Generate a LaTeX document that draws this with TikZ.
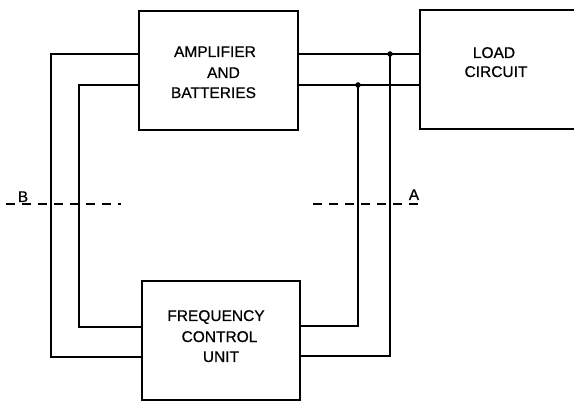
\documentclass[tikz,border=0pt]{standalone}
\usepackage{fontspec}
\setmainfont{Liberation Sans}
\newfontfamily\lettering{Liberation Sans}[FakeBold=0.6]
\begin{document}
\begin{tikzpicture}[x=1pt,y=-1pt,
  wire/.style={line width=1.6pt},
  box/.style={draw,line width=1.6pt,inner sep=0pt,rectangle,minimum height=119pt},
  lbl/.style={inner sep=0pt,anchor=base,font=\lettering\fontsize{15.5}{18}\selectfont},
  cut/.style={line width=1.6pt,dash pattern=on 9pt off 7pt},
  jdot/.style={circle,fill,inner sep=0pt,minimum size=5.5pt}]
\useasboundingbox (0,0) rectangle (574,401);
\fill[white] (0,0) rectangle (574,401);
% boxes
\node[box,minimum width=159pt] (amp) at (218.5,70.5) {};
\node[box,minimum width=200pt] (load) at (520,69.5) {};
\node[box,minimum width=158pt] (freq) at (221,340.5) {};
% texts
\node[lbl] (t1) at (215,57) {AMPLIFIER};
\node[lbl] (t2) at (223.5,78) {AND};
\node[lbl] (t3) at (213.5,98) {BATTERIES};
\node[lbl] (t4) at (494,58) {LOAD};
\node[lbl] (t5) at (496,77) {CIRCUIT};
\node[lbl] (t6) at (216,321) {FREQUENCY};
\node[lbl] (t7) at (219.5,342) {CONTROL};
\node[lbl] (t8) at (221,362) {UNIT};
\node[lbl] (lb) at (23,202) {B};
\node[lbl] (la) at (414,200) {A};
% junctions and corners
\coordinate (jU) at (390,54);
\coordinate (jL) at (358,85);
\coordinate (cRU) at (390,356);
\coordinate (cRL) at (358,326);
\coordinate (cUL) at (51,54);
\coordinate (cUL2) at (51,357);
\coordinate (cLL) at (79,85);
\coordinate (cLL2) at (79,327);
% wires
\draw[wire] (amp.east |- jU) -- (jU) -- (load.west |- jU);
\draw[wire] (amp.east |- jL) -- (jL) -- (load.west |- jL);
\draw[wire] (jU) -- (cRU) -- (freq.east |- cRU);
\draw[wire] (jL) -- (cRL) -- (freq.east |- cRL);
\draw[wire] (amp.west |- cUL) -- (cUL) -- (cUL2) -- (freq.west |- cUL2);
\draw[wire] (amp.west |- cLL) -- (cLL) -- (cLL2) -- (freq.west |- cLL2);
\node[jdot] (dU) at (jU) {};
\node[jdot] (dL) at (jL) {};
% cut lines
\coordinate (b1) at (6,204);
\coordinate (b2) at (121,204);
\coordinate (a1) at (313,204);
\coordinate (a2) at (424,204);
\draw[cut] (b1) -- (b2);
\draw[cut] (a1) -- (a2);
\end{tikzpicture}
\end{document}
